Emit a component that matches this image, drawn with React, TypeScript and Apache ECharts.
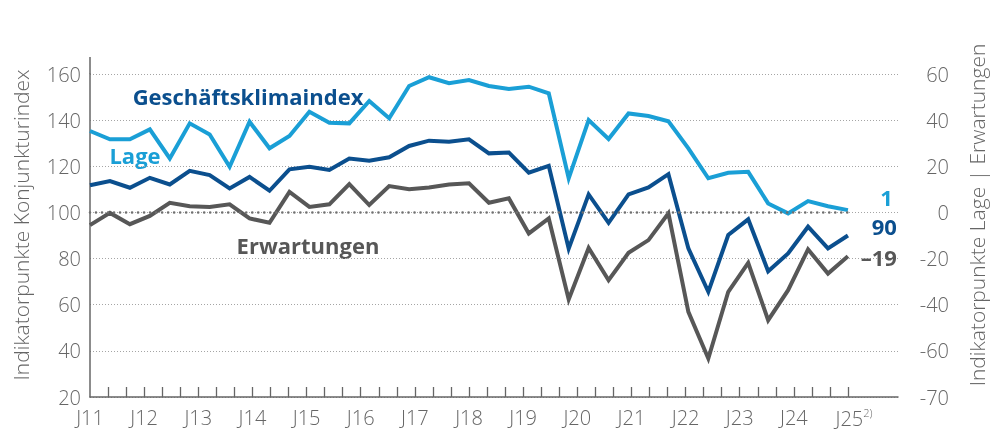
import React, { useEffect, useRef } from 'react';
import * as echarts from 'echarts';

// Year labels on the x axis (one every third tick)
const yearLabels = ['J11', 'J12', 'J13', 'J14', 'J15', 'J16', 'J17', 'J18', 'J19', 'J20', 'J21', 'J22', 'J23', 'J24', 'J25'];

// Geschäftsklimaindex (left axis, index points)
const geschaeftsklima = [
  111.8, 113.6, 110.7, 115, 112.1, 118, 116.2, 110.4, 115.4, 109.4,
  118.7, 119.8, 118.4, 123.4, 122.4, 123.9, 128.8, 131.1, 130.6, 131.7,
  125.6, 126, 117.2, 120.2, 84.3, 107.8, 95.5, 107.8, 110.8, 116.6,
  84.4, 65.6, 90.2, 97, 74.5, 82.2, 93.8, 84.4, 90,
];

// Lage (right axis)
const lage = [
  35.3, 31.7, 31.7, 36, 23.4, 38.6, 33.8, 19.8, 39.3, 27.8,
  33.1, 43.6, 38.9, 38.6, 48.3, 40.8, 54.8, 58.6, 56, 57.4,
  54.8, 53.5, 54.5, 51.6, 14.8, 40, 31.8, 42.9, 41.8, 39.5,
  27.8, 14.8, 17.2, 17.6, 3.9, -0.4, 4.9, 2.7, 1,
];

// Erwartungen (right axis)
const erwartungen = [
  -5.5, -0.2, -5.1, -1.5, 4.2, 2.7, 2.4, 3.5, -2.6, -4.5,
  8.9, 2.4, 3.5, 12.3, 3.2, 11.4, 10.1, 10.8, 12.1, 12.6,
  4.2, 6.1, -9.1, -2.6, -37.7, -15.4, -29.4, -17.5, -12, -0.4,
  -43.1, -63.3, -34.4, -21.9, -46.7, -33.7, -16, -26.5, -19,
];

const endLabels = { lage: '1', geschaeftsklima: '90', erwartungen: '–19' };
const seriesNames = { geschaeftsklima: 'Geschäftsklimaindex', lage: 'Lage', erwartungen: 'Erwartungen' };
const leftAxisTitle = 'Indikatorpunkte Konjunkturindex';
const rightAxisTitle = 'Indikatorpunkte Lage | Erwartungen';

const FONT = "'Open Sans', sans-serif";
const C_LAGE = '#1a9fd6';
const C_GK = '#0b4f8e';
const C_ERW = '#575757';
const C_AXIS = '#666666';

export default function App() {
  const ref = useRef<HTMLDivElement>(null);
  useEffect(() => {
    if (!ref.current) return;
    const chart = echarts.init(ref.current, undefined, { renderer: 'svg' });
    const nTicks = (yearLabels.length - 1) * 3;
    const tickVals = Array.from({ length: nTicks }, (_, i) => i + 1);
    const labelVals = yearLabels.map((_, i) => i * 3);
    const last = lage.length - 1;

    chart.setOption({
      animation: false,
      grid: { left: 90, right: 92, top: 74, bottom: 34 },
      xAxis: [
        {
          type: 'value',
          min: 0,
          max: 44.77,
          axisLine: { show: true, onZero: false, lineStyle: { color: C_AXIS, width: 1.5 } },
          axisTick: { show: true, inside: true, length: 10, customValues: tickVals, lineStyle: { color: C_AXIS, width: 1.3 } },
          axisLabel: {
            customValues: labelVals,
            margin: 10,
            color: C_AXIS,
            fontSize: 20,
            fontFamily: FONT,
            fontWeight: 300,
            formatter: (v: number) => {
              const idx = Math.round(v / 3);
              const t = yearLabels[idx];
              if (idx === yearLabels.length - 1) return '{pad|}{a|' + t + '}{sup|2)}';
              return t;
            },
            rich: {
              a: { fontSize: 20, fontFamily: FONT, fontWeight: 300, color: C_AXIS },
              pad: { width: 12 },
              sup: { fontSize: 11, fontFamily: FONT, color: C_AXIS, verticalAlign: 'top', padding: [0, 0, 12, 0] },
            },
          },
          splitLine: { show: false },
        },
        {
          type: 'value',
          min: 0,
          max: 40.51,
          show: false,
          axisLine: { onZero: false },
        },
      ],
      yAxis: [
        {
          type: 'value',
          position: 'left',
          min: 20,
          max: 160,
          interval: 20,
          axisLine: { show: true, onZero: false, lineStyle: { color: C_AXIS, width: 1.5 } },
          axisTick: { show: false },
          axisLabel: { color: C_AXIS, fontSize: 20, fontFamily: FONT, fontWeight: 300, margin: 9 },
          splitLine: { show: true, lineStyle: { color: '#a5a5a5', type: [1, 2], width: 1 } },
        },
        {
          type: 'value',
          position: 'right',
          min: -80,
          max: 60,
          interval: 20,
          axisLine: { show: false, onZero: false },
          axisTick: { show: false },
          axisLabel: {
            color: C_AXIS,
            fontSize: 20,
            fontFamily: FONT,
            fontWeight: 300,
            align: 'right',
            margin: 51,
            formatter: (v: number) => (v === -80 ? '-70' : String(v)),
          },
          splitLine: { show: false },
        },
      ],
      series: [
        {
          name: seriesNames.lage,
          type: 'line',
          xAxisIndex: 1,
          yAxisIndex: 1,
          data: lage.map((v, i) => [i, v]),
          symbol: 'none',
          lineStyle: { color: C_LAGE, width: 4, join: 'miter' },
          endLabel: {
            show: true,
            formatter: endLabels.lage,
            color: C_LAGE,
            fontSize: 22,
            fontWeight: 'bold',
            fontFamily: FONT,
            align: 'right',
            distance: 45,
            offset: [0, -13],
          },
          z: 3,
        },
        {
          name: seriesNames.geschaeftsklima,
          type: 'line',
          xAxisIndex: 1,
          yAxisIndex: 0,
          data: geschaeftsklima.map((v, i) => [i, v]),
          symbol: 'none',
          lineStyle: { color: C_GK, width: 4, join: 'miter' },
          endLabel: {
            show: true,
            formatter: endLabels.geschaeftsklima,
            color: C_GK,
            fontSize: 22,
            fontWeight: 'bold',
            fontFamily: FONT,
            align: 'right',
            distance: 49,
            offset: [0, -10],
          },
          markLine: {
            silent: true,
            symbol: 'none',
            label: { show: false },
            lineStyle: { color: '#6f6f6f', type: [0.01, 6], width: 2.6, cap: 'round' },
            data: [[{ coord: [0, 100] }, { coord: [last, 100] }]],
          },
          z: 4,
        },
        {
          name: seriesNames.erwartungen,
          type: 'line',
          xAxisIndex: 1,
          yAxisIndex: 1,
          data: erwartungen.map((v, i) => [i, v]),
          symbol: 'none',
          lineStyle: { color: C_ERW, width: 4, join: 'miter' },
          endLabel: {
            show: true,
            formatter: endLabels.erwartungen,
            color: C_ERW,
            fontSize: 22,
            fontWeight: 'bold',
            fontFamily: FONT,
            align: 'right',
            distance: 49,
            offset: [0, 1],
          },
          z: 3,
        },
      ],
      graphic: [
        { type: 'line', shape: { x1: 90, y1: 57, x2: 90, y2: 74 }, style: { stroke: C_AXIS, lineWidth: 1.5 } },
        {
          type: 'text', x: 248, y: 96,
          style: { text: seriesNames.geschaeftsklima, fill: C_GK, font: `bold 22px ${FONT}`, align: 'center', verticalAlign: 'middle' },
        },
        {
          type: 'text', x: 135, y: 155,
          style: { text: seriesNames.lage, fill: C_LAGE, font: `bold 22px ${FONT}`, align: 'center', verticalAlign: 'middle' },
        },
        {
          type: 'text', x: 308, y: 245,
          style: { text: seriesNames.erwartungen, fill: C_ERW, font: `bold 22px ${FONT}`, align: 'center', verticalAlign: 'middle' },
        },
        {
          type: 'text', x: 21, y: 225, rotation: Math.PI / 2,
          style: { text: leftAxisTitle, fill: C_AXIS, font: `300 21px ${FONT}`, align: 'center', verticalAlign: 'middle' },
        },
        {
          type: 'text', x: 977, y: 215, rotation: Math.PI / 2,
          style: { text: rightAxisTitle, fill: C_AXIS, font: `300 21px ${FONT}`, align: 'center', verticalAlign: 'middle' },
        },
      ],
    });
    return () => chart.dispose();
  }, []);
  return <div ref={ref} style={{ position: 'fixed', left: 0, top: 0, width: 990, height: 431 }} />;
}
